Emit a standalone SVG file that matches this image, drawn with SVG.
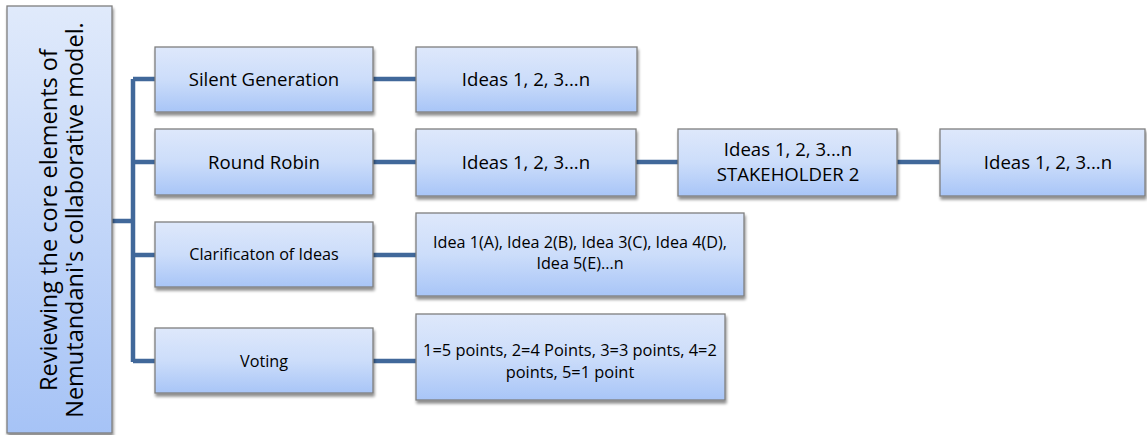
<svg xmlns="http://www.w3.org/2000/svg" width="1147" height="435" viewBox="0 0 1147 435">
<defs>
<linearGradient id="g" x1="0" y1="0" x2="0" y2="1">
<stop offset="0" stop-color="#DEE8FB"/>
<stop offset="0.5" stop-color="#CCDDFA"/>
<stop offset="1" stop-color="#A8C5F7"/>
</linearGradient>
<linearGradient id="gl" x1="0" y1="0" x2="0" y2="1">
<stop offset="0" stop-color="#E0EAFB"/>
<stop offset="1" stop-color="#A6C3F6"/>
</linearGradient>
<filter id="sh" x="-10%" y="-10%" width="130%" height="140%">
<feGaussianBlur in="SourceAlpha" stdDeviation="1.5"/>
<feOffset dx="1" dy="2.5"/>
<feComponentTransfer><feFuncA type="linear" slope="0.45"/></feComponentTransfer>
<feMerge><feMergeNode/><feMergeNode in="SourceGraphic"/></feMerge>
</filter>
</defs>
<style>
.box{fill:url(#g);stroke:#7F7F7F;stroke-width:1.3;filter:url(#sh)}
.t{font-family:"Open Sans","Liberation Sans",sans-serif;fill:#000;text-anchor:middle}
.l{font-size:18.6px}
.s{font-size:16.2px}
.c{fill:none;stroke:#41689A;stroke-width:4.5}
</style>
<g id="connectors">
<path class="c" d="M112 221 H133 M133 79 V362 M133 79 H156 M133 162 H156 M133 255 H156 M133 361 H156"/>
<path class="c" d="M373 79 H417 M373 162 H417 M373 255 H417 M373 361 H417"/>
<path class="c" d="M636 162 H679 M897 162 H941"/>
</g>
<g id="root">
<rect x="7" y="6" width="105" height="427" fill="url(#gl)" stroke="#7F7F7F" stroke-width="1.3" filter="url(#sh)"/>
<text class="t" font-size="23.5" transform="translate(59 220) rotate(-90)"><tspan x="0" y="-2">Reviewing the core elements of</tspan><tspan x="0" y="24">Nemutandani's collaborative model.</tspan></text>
</g>
<g id="n-silent"><rect class="box" x="155" y="47" width="218" height="65"/><text class="t l" x="264" y="86">Silent Generation</text></g>
<g id="n-round"><rect class="box" x="155" y="129" width="218" height="66"/><text class="t l" x="264" y="169">Round Robin</text></g>
<g id="n-clar"><rect class="box" x="155" y="222" width="218" height="65"/><text class="t s" x="264" y="260">Clarificaton of Ideas</text></g>
<g id="n-vote"><rect class="box" x="155" y="328" width="218" height="65"/><text class="t s" x="264" y="367">Voting</text></g>
<g id="n-ideas1"><rect class="box" x="416" y="47" width="221" height="65"/><text class="t l" x="526" y="86">Ideas 1, 2, 3...n</text></g>
<g id="n-ideas2"><rect class="box" x="416" y="129" width="220" height="67"/><text class="t l" x="526" y="169">Ideas 1, 2, 3...n</text></g>
<g id="n-stake"><rect class="box" x="678" y="129" width="219" height="67"/><text class="t l" x="788" y="156">Ideas 1, 2, 3...n</text><text class="t l" x="788" y="181">STAKEHOLDER 2</text></g>
<g id="n-ideas3"><rect class="box" x="940" y="129" width="205" height="67"/><text class="t l" x="1048" y="169">Ideas 1, 2, 3...n</text></g>
<g id="n-clarideas"><rect class="box" x="416" y="213" width="328" height="83"/><text class="t s" x="580" y="248">Idea 1(A), Idea 2(B), Idea 3(C), Idea 4(D),</text><text class="t s" x="580" y="269">Idea 5(E)...n</text></g>
<g id="n-points"><rect class="box" x="416" y="314" width="309" height="86"/><text class="t" font-size="16.4" x="570" y="356">1=5 points, 2=4 Points, 3=3 points, 4=2</text><text class="t" font-size="16.4" x="570" y="378">points, 5=1 point</text></g>
</svg>
